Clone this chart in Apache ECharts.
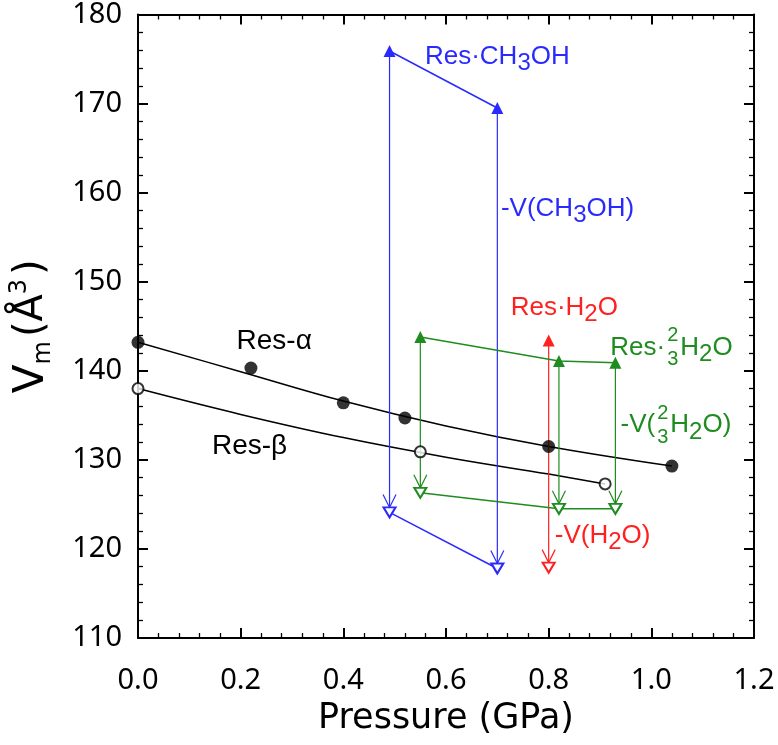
<!DOCTYPE html>
<html>
<head>
<meta charset="utf-8">
<script src="https://cdn.jsdelivr.net/npm/echarts@6/dist/echarts.min.js"></script>
<style>
html,body{margin:0;padding:0;background:#fff;}
#chart{width:778px;height:745px;}
</style>
</head>
<body>
<div id="chart"></div>
<script>
// ---------- data ----------
const xTickLabels = ['0.0','0.2','0.4','0.6','0.8','1.0','1.2'];
const yTickLabels = ['110','120','130','140','150','160','170','180'];

const alphaP = [0, 0.22, 0.40, 0.52, 0.80, 1.04];
const alphaV = [143.2, 140.3, 136.4, 134.7, 131.5, 129.3];
const betaP  = [0, 0.55, 0.91];
const betaV  = [138.0, 130.9, 127.3];

const alphaFitP = [0, 0.2, 0.4, 0.6, 0.8, 1.04];
const alphaFitV = [143.2, 139.9, 136.6, 133.8, 131.5, 129.3];
const betaFitP  = [0, 0.2, 0.4, 0.6, 0.8, 0.91];
const betaFitV  = [138.0, 135.1, 132.5, 130.3, 128.4, 127.3];

const meohP = [0.49, 0.70];
const meohV = [175.9, 169.5];
const meohRemovedV = [124.1, 117.8];

const h2oP = [0.80];
const h2oV = [143.4];
const h2oRemovedV = [117.9];

const h2o23P = [0.55, 0.82, 0.93];
const h2o23V = [143.8, 141.1, 140.9];
const h2o23RemovedV = [126.3, 124.5, 124.5];

// annotation anchors (data coordinates)
const labelP = [0.559, 0.707, 0.726, 0.920, 0.940, 0.812, 0.192, 0.144];
const labelV = [175.3, 158.2, 147.1, 142.6, 133.9, 121.5, 143.3, 131.5];
const labelParts = [
  [{t:'Res·CH'},{t:'3',sub:1},{t:'OH'}],
  [{t:'-V(CH'},{t:'3',sub:1},{t:'OH)'}],
  [{t:'Res·H'},{t:'2',sub:1},{t:'O'}],
  [{t:'Res·'},{frac:['2','3']},{t:'H'},{t:'2',sub:1},{t:'O'}],
  [{t:'-V('},{frac:['2','3']},{t:'H'},{t:'2',sub:1},{t:'O)'}],
  [{t:'-V(H'},{t:'2',sub:1},{t:'O)'}],
  [{t:'Res-α'}],
  [{t:'Res-β'}]
];
const labelColorKey = ['blue','blue','red','green','green','red','black','black'];

// ---------- styles ----------
const COLORS = {blue:'#2a2aff', red:'#ff2020', green:'#1e8c1e', black:'#000'};
const zip = (a, b) => a.map((v, i) => [v, b[i]]);

const measureCtx = document.createElement('canvas').getContext('2d');
function textW(t, font){ measureCtx.font = font; return measureCtx.measureText(t).width; }

function arrowSeries(P, top, bottom, color){
  return {
    type:'custom', z:3, silent:true,
    data: P.map((p,i)=>[p, top[i], bottom[i]]),
    renderItem(params, api){
      const a = api.coord([api.value(0), api.value(1)]);
      const b = api.coord([api.value(0), api.value(2)]);
      const tipY = b[1] - 5;
      const st = {stroke: color, lineWidth: 1.2, fill: null};
      return {type:'group', children:[
        {type:'line', shape:{x1:a[0], y1:a[1], x2:b[0], y2:tipY}, style:st},
        {type:'polyline', shape:{points:[[b[0]-6.5, tipY-13],[b[0], tipY],[b[0]+6.5, tipY-13]]}, style:st}
      ]};
    }
  };
}

function lineSeries(P, V, color, filled){
  return {
    type:'line', z:5, data: zip(P, V),
    symbol: filled ? 'triangle' : 'emptyTriangle',
    symbolRotate: filled ? 0 : 180,
    symbolSize: filled ? 12 : [12, 10],
    showAllSymbol:true,
    lineStyle:{color, width:1.5},
    itemStyle:{color, borderColor: color, borderWidth: filled ? 0 : 1.4},
    emphasis:{disabled:true}, animation:false
  };
}

const FONT_FAM = '"Liberation Sans", Arial, sans-serif';
const labelSeries = {
  type:'custom', z:10, silent:true,
  data: labelP.map((p,i)=>[p, labelV[i], i]),
  renderItem(params, api){
    const i = api.value(2);
    const pt = api.coord([api.value(0), api.value(1)]);
    const color = COLORS[labelColorKey[i]];
    const big = labelColorKey[i] === 'black' ? 28 : 26;
    const mainFont = big + 'px ' + FONT_FAM;
    const subFont = (big - 2) + 'px ' + FONT_FAM;
    const fracFont = '20px ' + FONT_FAM;
    const children = [];
    let ox = 0;
    labelParts[i].forEach(seg => {
      if (seg.frac){
        const w = Math.max(textW(seg.frac[0], fracFont), textW(seg.frac[1], fracFont));
        children.push({type:'text', x: ox + 2 + w/2, y: -12, style:{text:seg.frac[0], font:fracFont, fill:color, textAlign:'center', textVerticalAlign:'middle'}});
        children.push({type:'text', x: ox + 2 + w/2, y: 12, style:{text:seg.frac[1], font:fracFont, fill:color, textAlign:'center', textVerticalAlign:'middle'}});
        ox += w + 4;
      } else {
        const f = seg.sub ? subFont : mainFont;
        children.push({type:'text', x: ox, y: seg.sub ? 7 : 0, style:{text:seg.t, font:f, fill:color, textAlign:'left', textVerticalAlign:'middle'}});
        ox += textW(seg.t, f);
      }
    });
    return {type:'group', x: pt[0], y: pt[1], children};
  }
};

const axisCommon = {
  type:'value',
  axisLine:{show:true, onZero:false, lineStyle:{color:'#000', width:2}},
  axisTick:{show:true, inside:true, length:10, lineStyle:{color:'#000', width:2}},
  minorTick:{show:true, splitNumber:5, length:5, lineStyle:{color:'#000', width:1.3}},
  splitLine:{show:false}, minorSplitLine:{show:false}
};
const TICK_FONT = '"Noto Sans", "DejaVu Sans", sans-serif';
const TITLE_FONT = '"DejaVu Sans", Verdana, sans-serif';

const option = {
  backgroundColor:'#fff',
  animation:false,
  grid:{left:136, right:24, top:14, bottom:107, containLabel:false},
  xAxis:[
    Object.assign({}, axisCommon, {
      min:0, max:1.2, interval:0.2, position:'bottom',
      axisLabel:{fontSize:29, color:'#000', fontFamily:TICK_FONT, margin:28,
        formatter: v => xTickLabels[Math.round(v/0.2)]},
      name:'Pressure (GPa)', nameLocation:'middle', nameGap:63,
      nameTextStyle:{fontSize:35, color:'#000', fontFamily:TITLE_FONT}
    }),
    Object.assign({}, axisCommon, {
      min:0, max:1.2, interval:0.2, position:'top', axisLabel:{show:false}
    })
  ],
  yAxis:[
    Object.assign({}, axisCommon, {
      min:110, max:180, interval:10, position:'left',
      axisLabel:{fontSize:29, color:'#000', fontFamily:TICK_FONT, margin:16,
        formatter: v => yTickLabels[Math.round((v-110)/10)]},
      name:'{v|V}{m|m}{p|(Å}{s|3}{p|)}', nameLocation:'middle', nameGap:82, nameRotate:90,
      nameTextStyle:{color:'#000', fontFamily:TITLE_FONT,
        rich:{
          v:{fontSize:42, fontFamily:TITLE_FONT, color:'#000', lineHeight:48, verticalAlign:'middle'},
          m:{fontSize:24, fontFamily:TITLE_FONT, color:'#000', lineHeight:24, verticalAlign:'bottom'},
          p:{fontSize:40, fontFamily:TITLE_FONT, color:'#000', lineHeight:48, verticalAlign:'middle', padding:[0,0,0,4]},
          s:{fontSize:24, fontFamily:TITLE_FONT, color:'#000', lineHeight:22, verticalAlign:'top'}
        }}
    }),
    Object.assign({}, axisCommon, {
      min:110, max:180, interval:10, position:'right', axisLabel:{show:false}
    })
  ],
  series:[
    {type:'line', z:2, data: zip(alphaFitP, alphaFitV), smooth:0.4, showSymbol:false,
      lineStyle:{color:'#000', width:1.5}, silent:true},
    {type:'line', z:2, data: zip(betaFitP, betaFitV), smooth:0.4, showSymbol:false,
      lineStyle:{color:'#000', width:1.5}, silent:true},
    arrowSeries(meohP, meohV, meohRemovedV, COLORS.blue),
    arrowSeries(h2oP, h2oV, h2oRemovedV, COLORS.red),
    arrowSeries(h2o23P, h2o23V, h2o23RemovedV, COLORS.green),
    lineSeries(meohP, meohV, COLORS.blue, true),
    lineSeries(meohP, meohRemovedV, COLORS.blue, false),
    lineSeries(h2oP, h2oV, COLORS.red, true),
    lineSeries(h2oP, h2oRemovedV, COLORS.red, false),
    lineSeries(h2o23P, h2o23V, COLORS.green, true),
    lineSeries(h2o23P, h2o23RemovedV, COLORS.green, false),
    {type:'scatter', z:6, data: zip(alphaP, alphaV), symbol:'circle', symbolSize:13,
      itemStyle:{color:'#000'}, silent:true},
    {type:'scatter', z:6, data: zip(betaP, betaV), symbol:'emptyCircle', symbolSize:11,
      itemStyle:{color:'#000', borderColor:'#000', borderWidth:1.2}, silent:true},
    labelSeries
  ]
};

const chart = echarts.init(document.getElementById('chart'), null, {renderer:'canvas'});
chart.setOption(option);
</script>
</body>
</html>
